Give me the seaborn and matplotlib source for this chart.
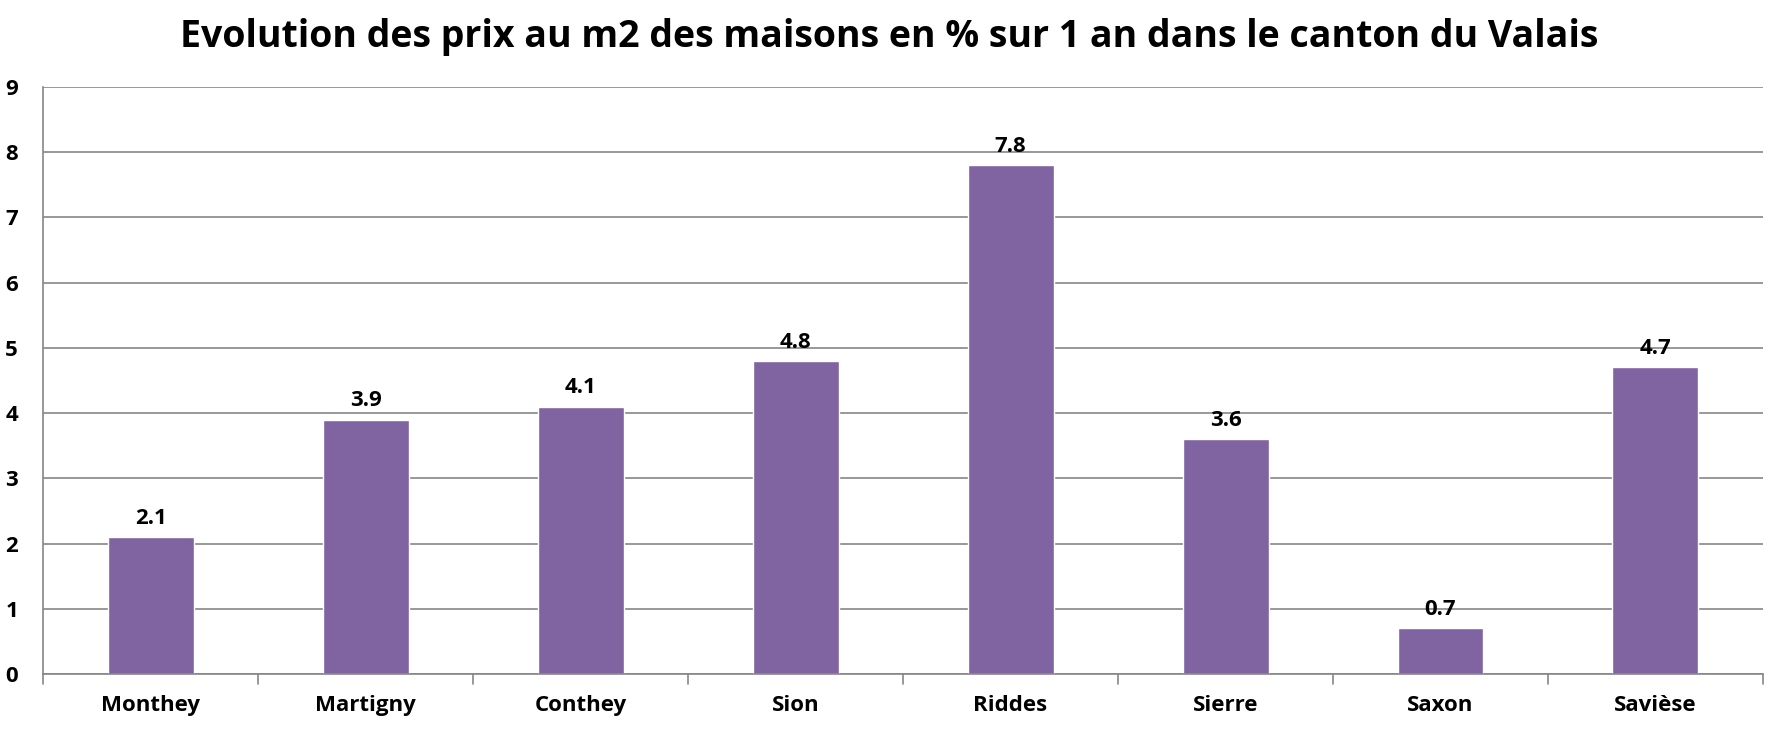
import matplotlib
matplotlib.use("Agg")
import matplotlib.pyplot as plt
import pandas as pd
import seaborn as sns

communes = ["Monthey", "Martigny", "Conthey", "Sion", "Riddes", "Sierre", "Saxon", "Savièse"]
evolution = [2.1, 3.9, 4.1, 4.8, 7.8, 3.6, 0.7, 4.7]
y_ticks = list(range(0, 10))

BAR_COLOR = "#8064A2"
GRID_COLOR = "#868686"

sns.set_style("white")
plt.rcParams["font.family"] = ["Open Sans", "DejaVu Sans"]
plt.rcParams["text.color"] = "black"

df = pd.DataFrame({"commune": communes, "evolution": evolution})

fig = plt.figure(figsize=(17.79, 7.31), dpi=100)
ax = fig.add_axes([0.0242, 0.078, 0.9668, 0.803])

sns.barplot(data=df, x="commune", y="evolution", color=BAR_COLOR, width=0.4,
            saturation=1, ax=ax)

ax.set_ylim(0, 9)
ax.set_xlim(-0.5, len(communes) - 0.5)
ax.set_yticks(y_ticks)
ax.set_yticklabels([str(t) for t in y_ticks], fontsize=16, fontweight="bold",
                   color="black")
ax.set_xticks(range(len(communes)))
ax.set_xticklabels(communes, fontsize=16, fontweight="bold", color="black")
ax.set_xlabel("")
ax.set_ylabel("")

# grid lines
ax.yaxis.grid(True, color=GRID_COLOR, linewidth=1.2)
ax.set_axisbelow(True)

for side in ["top", "right"]:
    ax.spines[side].set_visible(False)
for side in ["left", "bottom"]:
    ax.spines[side].set_color(GRID_COLOR)
    ax.spines[side].set_linewidth(1.2)

ax.tick_params(axis="y", length=8, color=GRID_COLOR, width=1.2, pad=10)
ax.tick_params(axis="x", length=0, pad=15)
# category boundary ticks
for b in range(len(communes) + 1):
    ax.plot([b - 0.5, b - 0.5], [0, -0.15], color=GRID_COLOR, lw=1.2,
            clip_on=False)

for i, v in enumerate(evolution):
    ax.annotate(f"{v}", (i, v), xytext=(0, 6), textcoords="offset points",
                ha="center", va="bottom", fontsize=16, fontweight="bold")

fig.suptitle("Evolution des prix au m2 des maisons en % sur 1 an dans le canton du Valais",
             fontsize=27, fontweight="bold", y=0.975)

fig.savefig("out.png", dpi=100, facecolor="white")
